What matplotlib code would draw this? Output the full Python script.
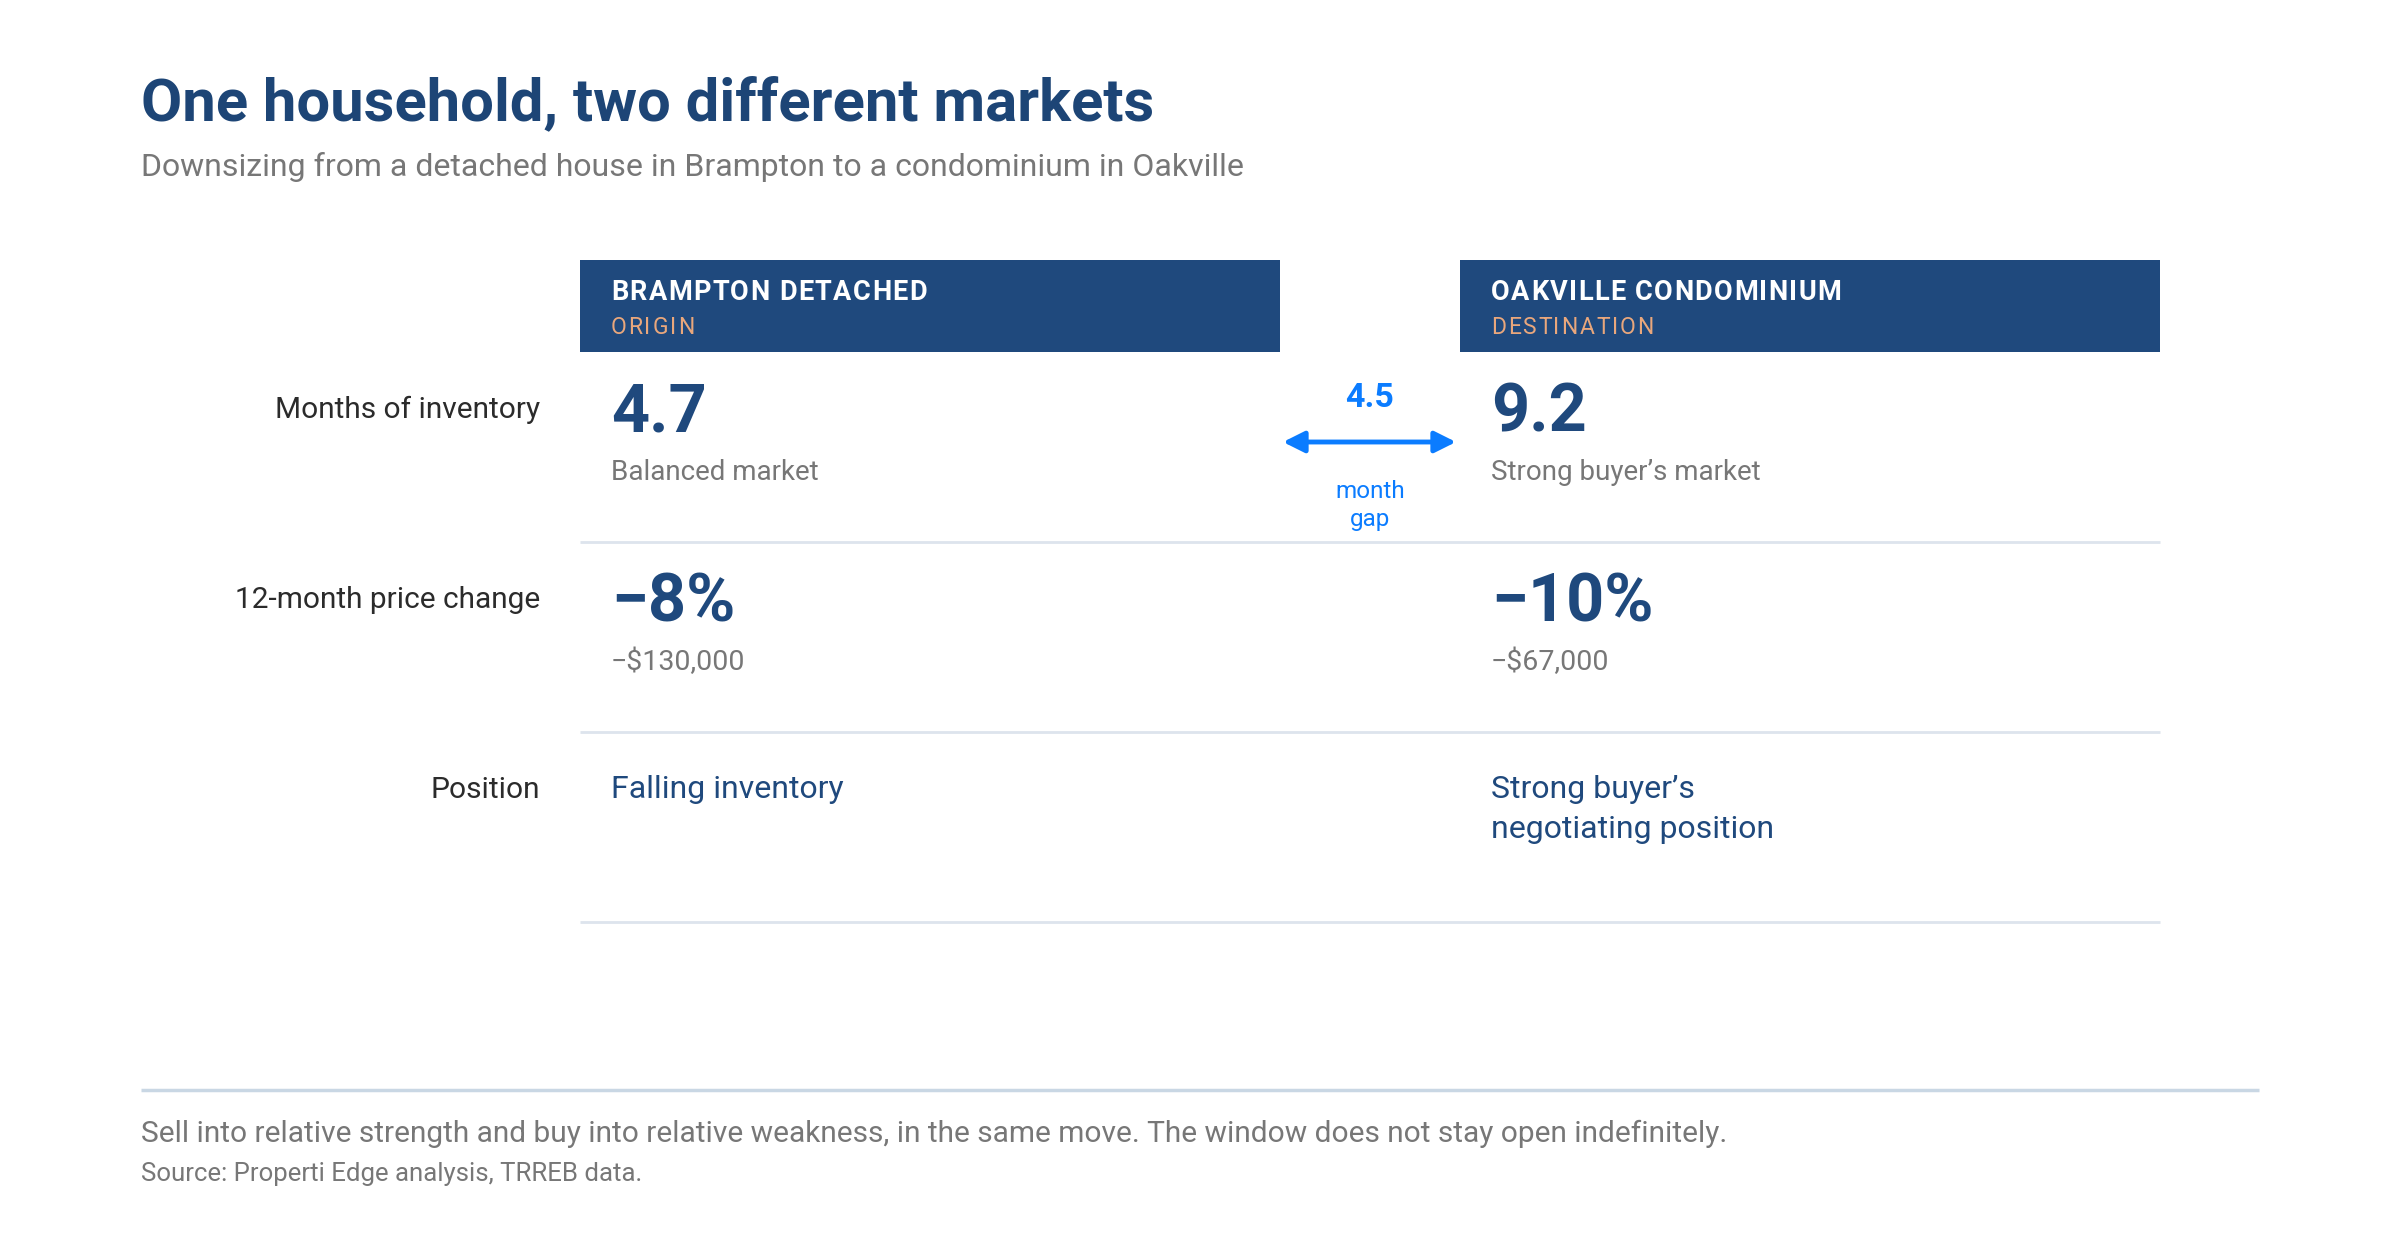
import matplotlib

matplotlib.use("Agg")

import matplotlib.pyplot as plt
from matplotlib.font_manager import FontProperties, findfont, get_font

plt.rcParams["font.family"] = ["Roboto", "DejaVu Sans"]

# --- data ---
markets = ["BRAMPTON DETACHED", "OAKVILLE CONDOMINIUM"]
roles = ["ORIGIN", "DESTINATION"]
row_labels = ["Months of inventory", "12-month price change", "Position"]
inventory_months = [4.7, 9.2]
inventory_notes = ["Balanced market", "Strong buyer\u2019s market"]
price_change_pct = [-8, -10]
price_change_dollars = [-130000, -67000]
positions = ["Falling inventory", "Strong buyer\u2019s\nnegotiating position"]

TITLE = "One household, two different markets"
SUBTITLE = "Downsizing from a detached house in Brampton to a condominium in Oakville"
FOOTNOTE = ("Sell into relative strength and buy into relative weakness, in the same move. "
            "The window does not stay open indefinitely.")
SOURCE = "Source: Properti Edge analysis, TRREB data."

# --- colours ---
NAVY = "#1f497d"
TITLE_C = "#1d4576"
PEACH = "#e9a77c"
BLUE = "#0b7cff"
GREY = "#777777"
DARK = "#2b2b2b"
RULE = "#dde4ed"
FOOT_RULE = "#c9d7e4"

DPI = 100


def minus(s):
    return s.replace("-", "\u2212")


def tracked_text(ax, x, y, s, size, weight="normal", color="black", track=0.0):
    """Draw text char by char with extra letter spacing (pixels)."""
    prop = FontProperties(family="Roboto", weight=weight, size=size)
    font = get_font(findfont(prop))
    font.set_size(size, DPI)
    for ch in s:
        ax.text(x, y, ch, fontproperties=prop, color=color, va="baseline")
        adv = font.load_char(ord(ch)).linearHoriAdvance / 65536
        x += adv + track


fig = plt.figure(figsize=(24, 12.4), dpi=DPI)
ax = fig.add_axes([0, 0, 1, 1])
ax.set_xlim(0, 2400)
ax.set_ylim(1240, 0)
ax.axis("off")

# title block
ax.text(141, 120, TITLE, fontsize=43, fontweight="bold", color=TITLE_C, va="baseline")
ax.text(141, 176, SUBTITLE, fontsize=23, color=GREY, va="baseline")

# layout of the table (pixels)
col_x = [580, 1460]
col_w = 700
pad = 31
head_top, head_bot = 260, 352
row_edges = [352, 542, 732, 922]
label_x = 540

for i, x0 in enumerate(col_x):
    ax.add_patch(plt.Rectangle((x0, head_top), col_w, head_bot - head_top,
                               facecolor=NAVY, edgecolor="none"))
    tracked_text(ax, x0 + pad, 300, markets[i], 19.5, weight="bold",
                 color="white", track=1.4)
    tracked_text(ax, x0 + pad, 334, roles[i], 16.5, color=PEACH, track=1.8)

# row dividers
for y in row_edges[1:]:
    ax.plot([col_x[0], col_x[1] + col_w], [y, y], color=RULE, lw=2,
            solid_capstyle="butt")

# row labels
for label, top in zip(row_labels, row_edges[:-1]):
    ax.text(label_x, top + 66, label, fontsize=21.5, color=DARK,
            ha="right", va="baseline")

for i, x0 in enumerate(col_x):
    tx = x0 + pad
    # months of inventory
    ax.text(tx, 432, f"{inventory_months[i]:.1f}", fontsize=48,
            fontweight="bold", color=NAVY, va="baseline")
    ax.text(tx, 480, inventory_notes[i], fontsize=20, color=GREY, va="baseline")
    # price change
    ax.text(tx, 622, minus(f"{price_change_pct[i]}%"), fontsize=48,
            fontweight="bold", color=NAVY, va="baseline")
    ax.text(tx, 670, minus(f"-${abs(price_change_dollars[i]):,}"), fontsize=20.5,
            color=GREY, va="baseline")
    # position
    for j, line in enumerate(positions[i].split("\n")):
        ax.text(tx, 798 + 40 * j, line, fontsize=23, color=NAVY, va="baseline")

# gap arrow between the two markets
gap = inventory_months[1] - inventory_months[0]
mid = (col_x[0] + col_w + col_x[1]) / 2
ax.annotate("", xy=(col_x[0] + col_w + 3, 442), xytext=(col_x[1] - 4, 442),
            arrowprops=dict(arrowstyle="<|-|>", color=BLUE, lw=3.5,
                            mutation_scale=32, shrinkA=0, shrinkB=0))
ax.text(mid, 407, f"{gap:.1f}", fontsize=24.5, fontweight="bold", color=BLUE,
        ha="center", va="baseline")
for j, word in enumerate(["month", "gap"]):
    ax.text(mid, 498 + 28 * j, word, fontsize=17.5, color=BLUE,
            ha="center", va="baseline")

# footer
ax.plot([141, 2259], [1090, 1090], color=FOOT_RULE, lw=2.5, solid_capstyle="butt")
ax.text(141, 1142, FOOTNOTE, fontsize=21.5, color=GREY, va="baseline")
ax.text(141, 1181, SOURCE, fontsize=18.5, color=GREY, va="baseline")

fig.savefig("out.png", dpi=DPI, facecolor="white")
